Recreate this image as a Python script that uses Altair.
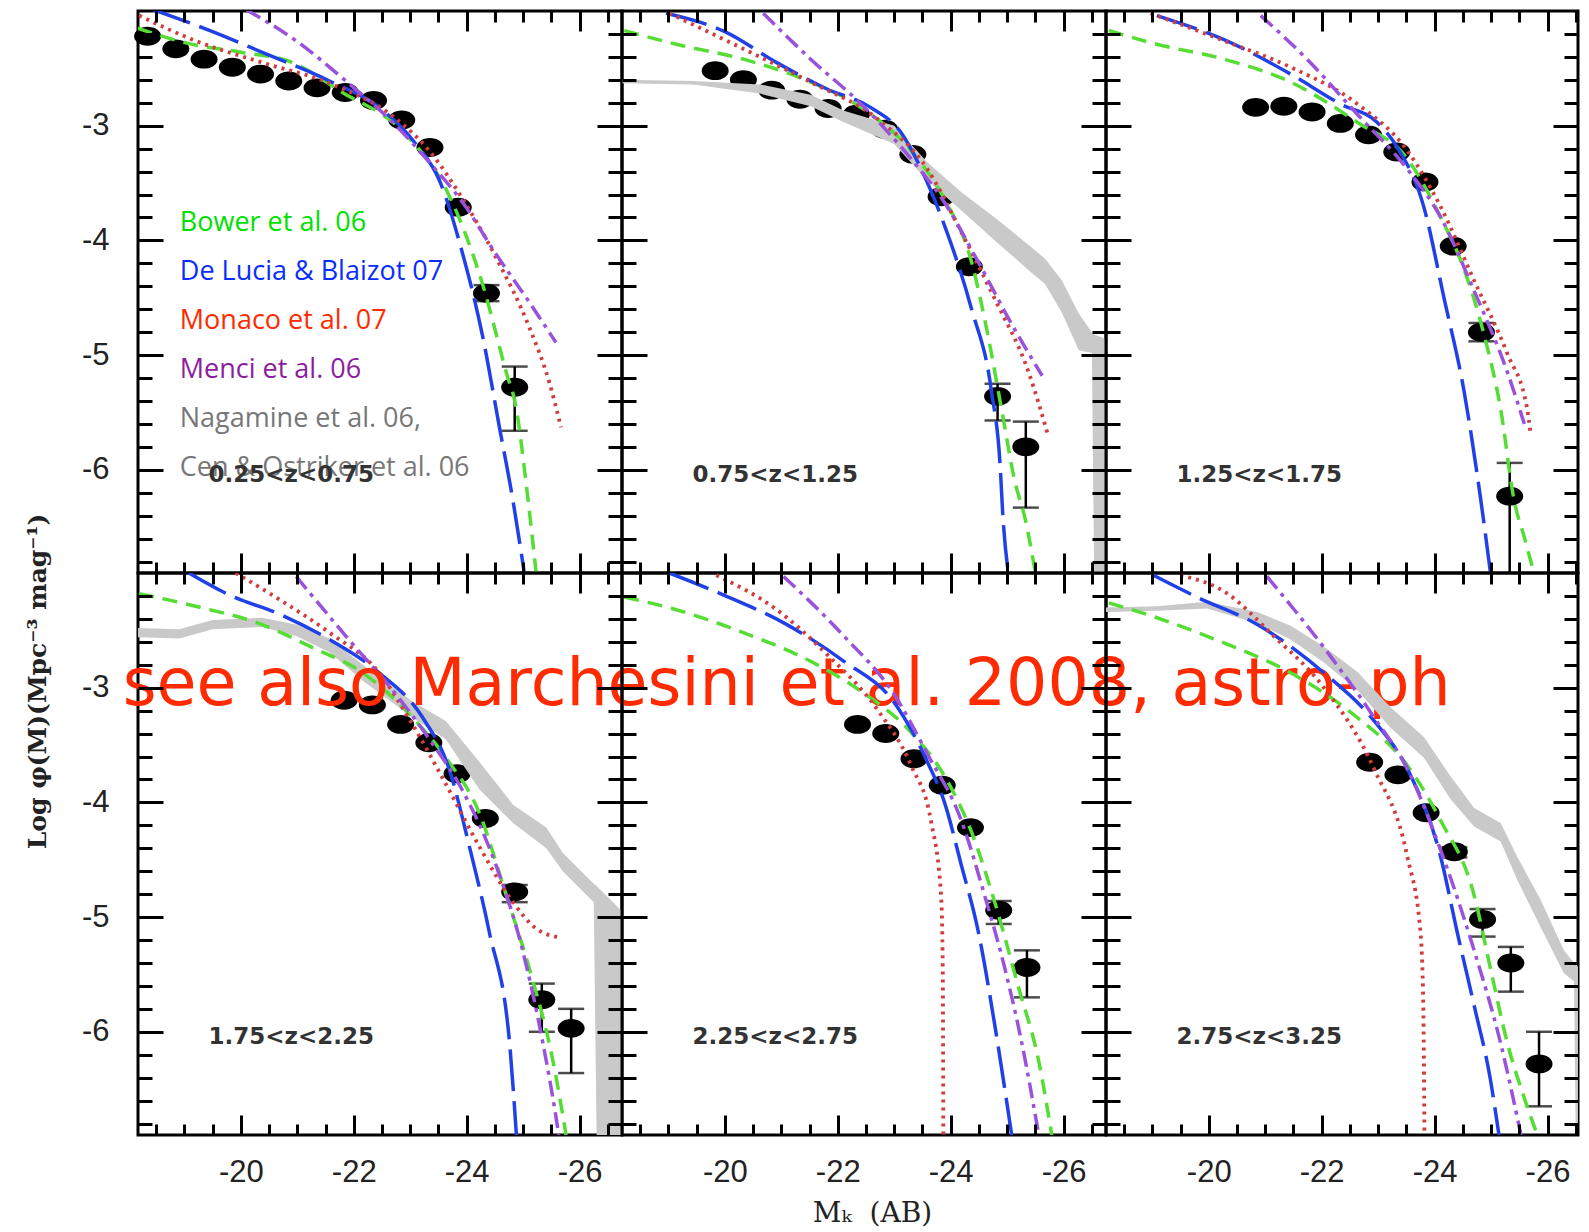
import altair as alt
import pandas as pd

# ------------------------------------------------------------------ data
PANEL_LABELS = ["0.25<z<0.75", "0.75<z<1.25", "1.25<z<1.75",
                "1.75<z<2.25", "2.25<z<2.75", "2.75<z<3.25"]

X_MAJOR = [-20, -22, -24, -26]
X_MINOR = [-18.5, -19.0, -19.5, -20.5, -21.0, -21.5, -22.5, -23.0, -23.5,
           -24.5, -25.0, -25.5, -26.5]
Y_MAJOR = [-3, -4, -5, -6]
Y_MINOR = [-2.2, -2.4, -2.6, -2.8, -3.2, -3.4, -3.6, -3.8, -4.2, -4.4, -4.6,
           -4.8, -5.2, -5.4, -5.6, -5.8, -6.2, -6.4, -6.6, -6.8]

LEGEND_TEXT = ["Bower et al. 06", "De Lucia & Blaizot 07", "Monaco et al. 07",
               "Menci et al. 06", "Nagamine et al. 06,", "Cen & Ostriker et al. 06"]
LEGEND_COLOR = ["#00e000", "#0a2cff", "#ff2a00", "#8e1c9e", "#777777", "#777777"]
WATERMARK = "see also Marchesini et al. 2008, astro\u2013ph"

# observed luminosity function (black points): M_K and Log phi
P1_MAG = [-18.35, -18.85, -19.35, -19.85, -20.35, -20.85, -21.35, -21.85, -22.35,
          -22.85, -23.35, -23.85, -24.35, -24.85]
P1_PHI = [-2.22, -2.33, -2.42, -2.49, -2.55, -2.61, -2.67, -2.71, -2.78, -2.95,
          -3.19, -3.71, -4.46, -5.28]
P1_ERR = [(-24.35, -4.53, -4.39), (-24.85, -5.66, -5.10)]

P2_MAG = [-19.83, -20.33, -20.83, -21.33, -21.83, -22.33, -22.83, -23.33, -23.83,
          -24.33, -24.83, -25.33]
P2_PHI = [-2.52, -2.60, -2.69, -2.77, -2.85, -2.90, -3.03, -3.25, -3.62, -4.23,
          -5.36, -5.80]
P2_ERR = [(-24.83, -5.57, -5.25), (-25.33, -6.33, -5.58)]

P3_MAG = [-20.83, -21.33, -21.83, -22.33, -22.83, -23.33, -23.83, -24.33, -24.83,
          -25.33]
P3_PHI = [-2.84, -2.83, -2.88, -2.98, -3.08, -3.23, -3.49, -4.05, -4.80, -6.23]
P3_ERR = [(-24.83, -4.88, -4.72), (-25.33, -7.20, -5.94)]

P4_MAG = [-21.83, -22.33, -22.83, -23.33, -23.83, -24.33, -24.85, -25.33, -25.85]
P4_PHI = [-3.11, -3.15, -3.32, -3.48, -3.75, -4.14, -4.78, -5.72, -5.97]
P4_ERR = [(-24.85, -4.87, -4.72), (-25.33, -6.00, -5.58), (-25.85, -6.36, -5.80)]

P5_MAG = [-22.35, -22.85, -23.35, -23.85, -24.35, -24.85, -25.35]
P5_PHI = [-3.32, -3.40, -3.62, -3.85, -4.22, -4.94, -5.44]
P5_ERR = [(-24.85, -5.06, -4.86), (-25.35, -5.70, -5.29)]

P6_MAG = [-22.85, -23.35, -23.85, -24.35, -24.85, -25.35, -25.85]
P6_PHI = [-3.65, -3.76, -4.09, -4.43, -5.02, -5.40, -6.28]
P6_ERR = [(-24.35, -4.48, -4.39), (-24.85, -5.17, -4.93), (-25.35, -5.65, -5.26),
          (-25.85, -6.65, -6.00)]

# model curves (M_K, Log phi)
P1_BOWER = [(-18.17, -2.15), (-19.05, -2.28), (-20.00, -2.36), (-20.86, -2.44),
            (-21.80, -2.71), (-22.93, -3.08), (-23.69, -3.61), (-24.28, -4.38),
            (-24.70, -5.15), (-24.88, -5.47), (-25.05, -6.11), (-25.23, -6.90)]
P1_DELUCIA = [(-18.40, -1.98), (-19.50, -2.18), (-20.38, -2.36), (-21.57, -2.61),
              (-22.45, -2.84), (-23.10, -3.16), (-23.52, -3.48), (-23.93, -4.12),
              (-24.28, -4.83), (-24.58, -5.63), (-24.82, -6.27), (-25.02, -6.90)]
P1_MONACO = [(-18.20, -2.04), (-19.20, -2.26), (-20.38, -2.45), (-21.57, -2.63),
             (-22.75, -2.94), (-23.34, -3.22), (-23.93, -3.64), (-24.52, -4.15),
             (-25.11, -4.76), (-25.47, -5.25), (-25.67, -5.63)]
P1_MENCI = [(-20.10, -1.99), (-20.98, -2.26), (-21.86, -2.61), (-22.75, -3.00),
            (-23.34, -3.32), (-23.93, -3.67), (-24.52, -4.12), (-25.11, -4.54),
            (-25.58, -4.89)]

P2_BOWER = [(-18.22, -2.17), (-19.14, -2.29), (-20.33, -2.42), (-21.52, -2.62),
            (-22.41, -2.84), (-23.30, -3.22), (-23.89, -3.64), (-24.37, -4.19),
            (-24.66, -4.83), (-24.90, -5.47), (-25.14, -6.11), (-25.32, -6.43),
            (-25.50, -6.90)]
P2_DELUCIA = [(-18.96, -2.02), (-20.00, -2.18), (-20.92, -2.45), (-21.81, -2.68),
              (-22.58, -2.84), (-23.12, -3.06), (-23.48, -3.38), (-23.89, -3.87),
              (-24.37, -4.60), (-24.72, -5.31), (-24.88, -6.00), (-24.92, -6.37),
              (-25.02, -6.90)]
P2_MONACO = [(-19.02, -2.02), (-20.33, -2.33), (-21.52, -2.62), (-22.70, -2.94),
             (-23.59, -3.38), (-24.19, -3.93), (-24.78, -4.51), (-25.38, -5.15),
             (-25.73, -5.71)]
P2_MENCI = [(-20.68, -2.02), (-21.52, -2.42), (-22.41, -2.81), (-23.30, -3.29),
            (-23.89, -3.67), (-24.49, -4.19), (-25.08, -4.73), (-25.62, -5.18)]

P3_BOWER = [(-18.23, -2.17), (-19.08, -2.29), (-20.27, -2.42), (-21.45, -2.62),
            (-22.63, -2.97), (-23.52, -3.29), (-24.11, -3.80), (-24.52, -4.25),
            (-24.88, -4.83), (-25.17, -5.47), (-25.41, -6.27), (-25.59, -6.59),
            (-25.76, -6.90)]
P3_DELUCIA = [(-19.08, -2.04), (-20.27, -2.25), (-21.45, -2.55), (-22.33, -2.81),
              (-22.98, -2.97), (-23.34, -3.19), (-23.81, -3.71), (-24.17, -4.51),
              (-24.52, -5.31), (-24.82, -6.27), (-24.99, -6.90)]
P3_MONACO = [(-18.97, -2.02), (-20.27, -2.26), (-21.45, -2.49), (-22.63, -2.81),
             (-23.52, -3.22), (-24.11, -3.71), (-24.70, -4.35), (-25.29, -4.99),
             (-25.64, -5.47), (-25.70, -5.69)]
P3_MENCI = [(-20.92, -2.04), (-21.74, -2.42), (-22.63, -2.90), (-23.52, -3.38),
            (-24.11, -3.80), (-24.70, -4.44), (-25.29, -5.15), (-25.59, -5.60)]

P4_BOWER = [(-18.20, -2.18), (-19.20, -2.29), (-20.38, -2.45), (-21.27, -2.65),
            (-22.16, -2.87), (-23.04, -3.26), (-23.63, -3.61), (-24.23, -4.10),
            (-24.70, -4.81), (-25.11, -5.45), (-25.53, -6.26), (-25.76, -6.90)]
P4_DELUCIA = [(-19.08, -2.00), (-19.79, -2.19), (-20.74, -2.37), (-21.57, -2.58),
              (-22.45, -2.87), (-23.22, -3.26), (-23.69, -3.71), (-24.05, -4.39),
              (-24.40, -5.13), (-24.76, -6.10), (-24.88, -6.90)]
P4_MONACO = [(-19.91, -2.00), (-20.68, -2.23), (-21.57, -2.52), (-22.45, -2.87),
             (-23.04, -3.32), (-23.63, -3.84), (-24.23, -4.39), (-24.82, -4.87),
             (-25.23, -5.10), (-25.67, -5.18)]
P4_MENCI = [(-20.98, -2.03), (-21.86, -2.55), (-22.75, -3.06), (-23.34, -3.45),
            (-23.93, -3.90), (-24.52, -4.55), (-24.99, -5.29), (-25.35, -6.10),
            (-25.58, -6.74), (-25.63, -6.90)]

P5_BOWER = [(-18.22, -2.21), (-19.14, -2.32), (-20.33, -2.52), (-21.52, -2.77),
            (-22.41, -3.03), (-23.30, -3.39), (-23.89, -3.77), (-24.37, -4.26),
            (-24.78, -4.87), (-25.20, -5.61), (-25.56, -6.26), (-25.79, -6.90)]
P5_DELUCIA = [(-19.02, -2.00), (-19.97, -2.19), (-21.10, -2.45), (-22.11, -2.77),
              (-23.00, -3.13), (-23.59, -3.65), (-23.89, -4.00), (-24.19, -4.55),
              (-24.49, -5.13), (-24.78, -5.94), (-25.08, -6.90)]
P5_MONACO = [(-19.85, -2.02), (-20.92, -2.32), (-21.81, -2.71), (-22.70, -3.19),
             (-23.30, -3.68), (-23.65, -4.16), (-23.83, -4.81), (-23.86, -5.45),
             (-23.87, -6.90)]
P5_MENCI = [(-21.04, -2.03), (-22.11, -2.55), (-23.00, -3.06), (-23.59, -3.58),
            (-24.19, -4.16), (-24.60, -4.81), (-24.96, -5.45), (-25.26, -6.10),
            (-25.56, -6.90)]

P6_BOWER = [(-18.23, -2.26), (-19.08, -2.39), (-20.27, -2.61), (-21.45, -2.87),
            (-22.63, -3.26), (-23.52, -3.68), (-24.11, -4.16), (-24.70, -4.81),
            (-24.99, -5.45), (-25.29, -6.10), (-25.59, -6.58), (-25.82, -6.90)]
P6_DELUCIA = [(-19.02, -2.02), (-19.79, -2.21), (-20.86, -2.45), (-22.04, -2.87),
              (-22.93, -3.29), (-23.52, -3.71), (-24.11, -4.48), (-24.40, -5.13),
              (-24.70, -5.77), (-24.99, -6.42), (-25.14, -6.90)]
P6_MONACO = [(-19.50, -2.02), (-20.27, -2.16), (-21.15, -2.55), (-22.04, -3.00),
             (-22.93, -3.71), (-23.52, -4.48), (-23.75, -5.13), (-23.80, -5.77),
             (-23.82, -6.90)]
P6_MENCI = [(-21.03, -2.03), (-22.04, -2.65), (-22.93, -3.26), (-23.52, -3.71),
            (-24.11, -4.42), (-24.70, -5.29), (-25.17, -6.10), (-25.53, -6.90)]

# Nagamine / Cen & Ostriker grey band: (M_K, lower, upper)
P2_GRAY = [(-18.19, -2.63, -2.60), (-19.44, -2.64, -2.61), (-20.62, -2.72, -2.64),
           (-21.52, -2.83, -2.73), (-22.11, -2.97, -2.87), (-23.00, -3.16, -3.00),
           (-23.59, -3.48, -3.32), (-24.19, -3.74, -3.58), (-24.78, -4.00, -3.80),
           (-25.38, -4.26, -4.04), (-25.67, -4.38, -4.16), (-25.97, -4.63, -4.35),
           (-26.27, -4.96, -4.64), (-26.50, -4.98, -4.80), (-26.54, -6.90, -4.82),
           (-26.75, -6.90, -4.86)]
P4_GRAY = [(-18.18, -2.56, -2.48), (-18.91, -2.57, -2.49), (-19.50, -2.49, -2.41),
           (-20.38, -2.47, -2.39), (-20.98, -2.55, -2.45), (-21.57, -2.69, -2.57),
           (-22.16, -2.94, -2.80), (-23.04, -3.26, -3.12), (-23.63, -3.45, -3.29),
           (-24.23, -3.89, -3.65), (-24.82, -4.18, -4.02), (-25.41, -4.40, -4.22),
           (-25.70, -4.60, -4.44), (-26.25, -4.87, -4.71), (-26.30, -6.90, -4.73),
           (-26.59, -6.90, -4.87), (-26.75, -6.90, -4.95)]
P6_GRAY = [(-18.18, -2.34, -2.30), (-19.08, -2.33, -2.29), (-19.97, -2.31, -2.25),
           (-20.86, -2.44, -2.34), (-21.45, -2.58, -2.46), (-22.04, -2.78, -2.64),
           (-22.63, -3.02, -2.86), (-23.22, -3.35, -3.17), (-23.81, -3.61, -3.43),
           (-24.28, -3.97, -3.77), (-24.70, -4.21, -4.05), (-25.17, -4.34, -4.18),
           (-25.47, -4.68, -4.48), (-25.88, -5.09, -4.85), (-26.29, -5.49, -5.29),
           (-26.47, -5.56, -5.40), (-26.50, -6.90, -5.41), (-26.54, -6.90, -5.43)]

# ------------------------------------------------------------------ layout / style
H = 562
W_FULL = 484
W_LAST = 472
X_LEFT = -18.18
X_RIGHT_FULL = -26.75
X_RIGHT_LAST = -26.54
Y_DOMAIN = [-6.9, -2.0]

ELLIPSE = "M -1 0 A 1 0.7 0 1 0 1 0 A 1 0.7 0 1 0 -1 0 Z"
MODEL_STYLE = [
    dict(color="#55dd33", strokeDash=[15, 9], strokeWidth=3.5),        # Bower
    dict(color="#2040e8", strokeDash=[42, 10], strokeWidth=3.5),       # De Lucia
    dict(color="#d23c3c", strokeDash=[3, 5], strokeWidth=3.8),         # Monaco
    dict(color="#9a52dc", strokeDash=[16, 6, 4, 6], strokeWidth=3.5),  # Menci
]
TICK_FONT = "Liberation Sans"
LABEL_EXPR = "'-' + format(abs(datum.value), 'd')"
LABEL_POS = (-19.43, -6.11)
LEGEND_POS = (-18.92, -3.92, -0.426)
WATERMARK_POS = (-17.91, -3.15)


def tick_axis(orient, offset, values, size):
    return alt.Axis(orient=orient, offset=offset, values=values, tickSize=size,
                    tickWidth=3, tickColor="black", ticks=True, labels=False,
                    domain=False, grid=False, title=None, zindex=1)


def make_panel(k, width, xright, mags, phis, errs, models, gray=None,
               xlabels=False, ylabels=False, xtitle=False, ytitle=False,
               legend=False, watermark=False):
    xs = alt.Scale(domain=[xright, X_LEFT], reverse=True, nice=False, zero=False)
    ys = alt.Scale(domain=Y_DOMAIN, nice=False, zero=False)

    def X(f, axis=None):
        return alt.X(f"{f}:Q", scale=xs, axis=axis)

    def Y(f, axis=None):
        return alt.Y(f"{f}:Q", scale=ys, axis=axis)

    dots_df = pd.DataFrame({"x": mags, "y": phis})
    err_df = pd.DataFrame(errs, columns=["x", "lo", "hi"])
    layers = []

    layers.append(alt.Chart(dots_df).mark_point(
        shape=ELLIPSE, size=729, filled=True, color="black", opacity=1,
        strokeWidth=0).encode(x=X("x"), y=Y("y")))
    layers.append(alt.Chart(err_df).mark_rule(
        color="black", strokeWidth=2.5, clip=True).encode(
        x=X("x"), y=Y("lo"), y2=alt.Y2("hi")))
    for fld in ("lo", "hi"):
        layers.append(alt.Chart(err_df).mark_tick(
            orient="horizontal", size=26, thickness=2.5, color="black",
            clip=True).encode(x=X("x"), y=Y(fld)))

    if gray is not None:
        gdf = pd.DataFrame(gray, columns=["x", "lo", "hi"])
        layers.append(alt.Chart(gdf).mark_area(
            color="#c9c9c9", clip=True).encode(
            x=X("x"), y=Y("lo"), y2=alt.Y2("hi")))

    for pts, st in zip(models, MODEL_STYLE):
        df = pd.DataFrame(pts, columns=["x", "y"])
        df["i"] = range(len(df))
        layers.append(alt.Chart(df).mark_line(
            clip=True, interpolate="monotone", **st).encode(
            x=X("x"), y=Y("y"), order=alt.Order("i:Q")))

    if legend:
        x0, y0, dy = LEGEND_POS
        ldf = pd.DataFrame({"t": LEGEND_TEXT, "c": LEGEND_COLOR,
                            "y": [y0 + dy * i for i in range(len(LEGEND_TEXT))],
                            "x": [x0] * len(LEGEND_TEXT)})
        layers.append(alt.Chart(ldf).mark_text(
            align="left", baseline="alphabetic", font="Open Sans",
            fontSize=27).encode(x=X("x"), y=Y("y"), text="t:N",
                                color=alt.Color("c:N", scale=None)))

    tdf = pd.DataFrame({"x": [LABEL_POS[0]], "y": [LABEL_POS[1]],
                        "t": [PANEL_LABELS[k]]})
    layers.append(alt.Chart(tdf).mark_text(
        align="left", baseline="alphabetic", font="DejaVu Sans",
        fontWeight="bold", fontSize=23, color="#333333").encode(
        x=X("x"), y=Y("y"), text="t:N"))

    if watermark:
        wdf = pd.DataFrame({"x": [WATERMARK_POS[0]], "y": [WATERMARK_POS[1]],
                            "t": [WATERMARK]})
        layers.append(alt.Chart(wdf).mark_text(
            align="left", baseline="alphabetic", font="DejaVu Sans",
            fontSize=65, color="#ff2a00").encode(
            x=X("x"), y=Y("y"), text="t:N"))

    # inward ticks on all four sides
    ax_specs = [
        (tick_axis("top", -H, X_MAJOR, 20), tick_axis("right", -width, Y_MAJOR, 25)),
        (tick_axis("top", -H, X_MINOR, 11), tick_axis("right", -width, Y_MINOR, 14)),
        (tick_axis("bottom", -H, X_MAJOR, 20), tick_axis("left", -width, Y_MAJOR, 25)),
        (tick_axis("bottom", -H, X_MINOR, 11), tick_axis("left", -width, Y_MINOR, 14)),
    ]
    for ax_x, ax_y in ax_specs:
        layers.append(alt.Chart(dots_df).mark_point(opacity=0).encode(
            x=X("x", ax_x), y=Y("y", ax_y)))

    if xlabels or ylabels:
        ax_x = None
        ax_y = None
        if xlabels:
            kw = dict(orient="bottom", values=X_MAJOR, ticks=False, tickSize=0,
                      domain=False, grid=False, labels=True, labelFont=TICK_FONT,
                      labelFontSize=31, labelColor="#222222", labelPadding=22,
                      labelFlush=False, labelOverlap=False, labelExpr=LABEL_EXPR,
                      zindex=1)
            if xtitle:
                kw.update(title="M\u2096\u00a0 (AB)", titleFont="DejaVu Serif",
                          titleFontSize=28, titleFontWeight="normal",
                          titleColor="#222222", titleX=250, titleY=78,
                          titleAlign="center", titleBaseline="middle")
            else:
                kw.update(title=None)
            ax_x = alt.Axis(**kw)
        if ylabels:
            kw = dict(orient="left", values=Y_MAJOR, ticks=False, tickSize=0,
                      domain=False, grid=False, labels=True, labelFont=TICK_FONT,
                      labelFontSize=31, labelColor="#222222", labelPadding=29,
                      labelFlush=False, labelOverlap=False, labelExpr=LABEL_EXPR,
                      zindex=1)
            if ytitle:
                kw.update(title="Log \u03c6(M)(Mpc\u207b\u00b3 mag\u207b\u00b9)",
                          titleFont="DejaVu Serif", titleFontSize=25,
                          titleFontWeight="bold", titleColor="#222222",
                          titleX=-101, titleY=108, titleAngle=270,
                          titleAlign="center", titleBaseline="middle")
            else:
                kw.update(title=None)
            ax_y = alt.Axis(**kw)
        layers.append(alt.Chart(dots_df).mark_point(opacity=0).encode(
            x=X("x", ax_x), y=Y("y", ax_y)))

    return alt.layer(*layers).resolve_axis(x="independent", y="independent") \
        .properties(width=width, height=H)


p1 = make_panel(0, W_FULL, X_RIGHT_FULL, P1_MAG, P1_PHI, P1_ERR,
                [P1_BOWER, P1_DELUCIA, P1_MONACO, P1_MENCI],
                ylabels=True, legend=True)
p2 = make_panel(1, W_FULL, X_RIGHT_FULL, P2_MAG, P2_PHI, P2_ERR,
                [P2_BOWER, P2_DELUCIA, P2_MONACO, P2_MENCI], gray=P2_GRAY)
p3 = make_panel(2, W_LAST, X_RIGHT_LAST, P3_MAG, P3_PHI, P3_ERR,
                [P3_BOWER, P3_DELUCIA, P3_MONACO, P3_MENCI])
p4 = make_panel(3, W_FULL, X_RIGHT_FULL, P4_MAG, P4_PHI, P4_ERR,
                [P4_BOWER, P4_DELUCIA, P4_MONACO, P4_MENCI], gray=P4_GRAY,
                xlabels=True, ylabels=True, ytitle=True, watermark=True)
p5 = make_panel(4, W_FULL, X_RIGHT_FULL, P5_MAG, P5_PHI, P5_ERR,
                [P5_BOWER, P5_DELUCIA, P5_MONACO, P5_MENCI],
                xlabels=True, xtitle=True)
p6 = make_panel(5, W_LAST, X_RIGHT_LAST, P6_MAG, P6_PHI, P6_ERR,
                [P6_BOWER, P6_DELUCIA, P6_MONACO, P6_MENCI], gray=P6_GRAY,
                xlabels=True)

chart = alt.concat(p1, p2, p3, p4, p5, p6, columns=3, spacing=0,
                   bounds="flush").properties(
    padding={"left": 15, "top": 0, "right": 0, "bottom": 0},
    background="white",
).configure_view(stroke="black", strokeWidth=3)

chart.save("out.html", embed_options={"renderer": "svg", "actions": False})
